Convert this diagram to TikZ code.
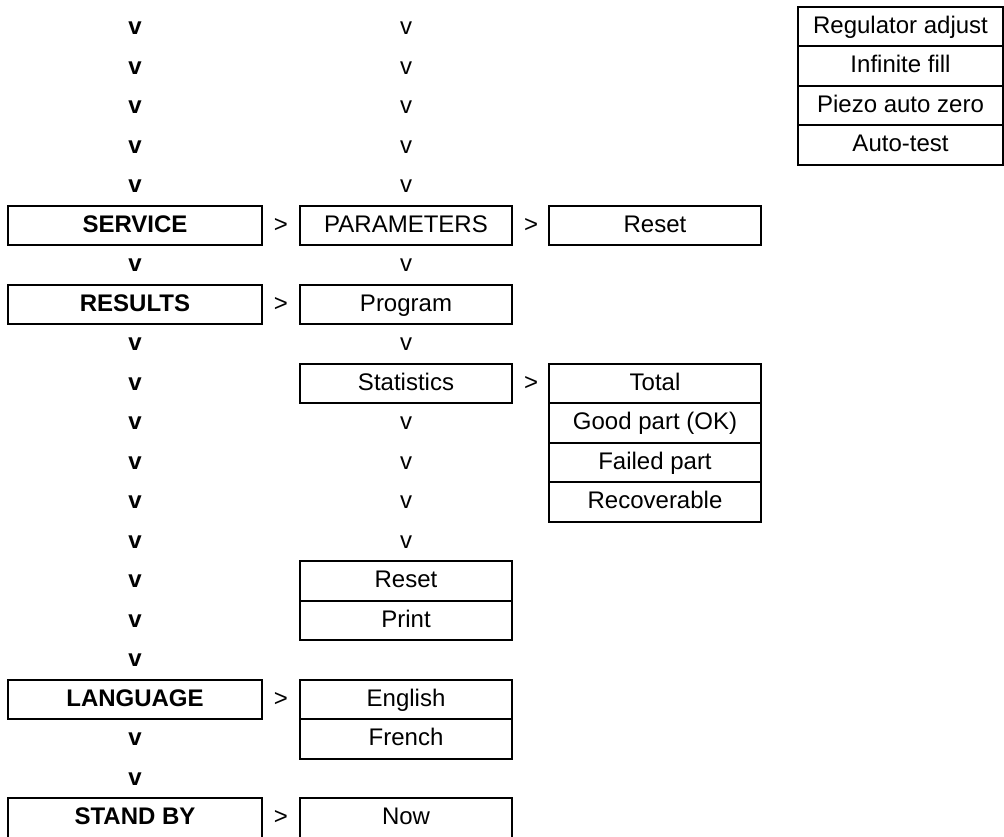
\documentclass[tikz,border=0pt]{standalone}
\usepackage{fontspec}
\setmainfont{Liberation Sans}
\begin{document}
\begin{tikzpicture}[x=0.5pt,y=-0.5pt,
  every node/.style={font=\fontsize{12}{14}\selectfont, inner sep=0pt, outer sep=0pt, text height=9pt, text depth=2.5pt},
  lbox/.style={draw, line width=1pt, minimum width=127pt, minimum height=19.75pt, font=\fontsize{12}{14}\selectfont\bfseries},
  mbox/.style={draw, line width=1pt, minimum width=106pt, minimum height=19.75pt},
  tbox/.style={draw, line width=1pt, minimum width=102.5pt, minimum height=19.75pt},
  vb/.style={font=\fontsize{12}{14}\selectfont\bfseries},
  vn/.style={},
  gt/.style={}]
\useasboundingbox (0,0) rectangle (1004,836);
% left column v marks
\foreach \k in {0,1,2,3,4,6,8,9,10,11,12,13,14,15,16,18,19}
  \node[vb] (vl\k) at (135,{28+39.5*\k}) {v};
% middle column v marks
\foreach \k in {0,1,2,3,4,6,8,10,11,12,13}
  \node[vn] (vm\k) at (406,{28+39.5*\k}) {v};
% left boxes
\node[lbox] (service)  at (135,{28+39.5*5})  {SERVICE};
\node[lbox] (results)  at (135,{28+39.5*7})  {RESULTS};
\node[lbox] (language) at (135,{28+39.5*17}) {LANGUAGE};
\node[lbox] (standby)  at (135,{28+39.5*20}) {STAND BY};
% left > middle
\foreach \k in {5,7,17,20}
  \node[gt] (ga\k) at (281,{28+39.5*\k}) {>};
% middle boxes
\node[mbox] (parameters) at (406,{28+39.5*5})  {PARAMETERS};
\node[mbox] (program)    at (406,{28+39.5*7})  {Program};
\node[mbox] (statistics) at (406,{28+39.5*9})  {Statistics};
\node[mbox] (reset2)     at (406,{28+39.5*14}) {Reset};
\node[mbox] (print)      at (406,{28+39.5*15}) {Print};
\node[mbox] (english)    at (406,{28+39.5*17}) {English};
\node[mbox] (french)     at (406,{28+39.5*18}) {French};
\node[mbox] (now)        at (406,{28+39.5*20}) {Now};
% middle > right
\foreach \k in {5,9}
  \node[gt] (gb\k) at (531,{28+39.5*\k}) {>};
% right boxes
\node[mbox] (reset1)      at (655,{28+39.5*5})  {Reset};
\node[mbox] (total)       at (655,{28+39.5*9})  {Total};
\node[mbox] (good)        at (655,{28+39.5*10}) {Good part (OK)};
\node[mbox] (failed)      at (655,{28+39.5*11}) {Failed part};
\node[mbox] (recoverable) at (655,{28+39.5*12}) {Recoverable};
% top right table
\node[tbox] (regulator) at (900.5,{26.5+39.5*0}) {Regulator adjust};
\node[tbox] (infinite)  at (900.5,{26.5+39.5*1}) {Infinite fill};
\node[tbox] (piezo)     at (900.5,{26.5+39.5*2}) {Piezo auto zero};
\node[tbox] (autotest)  at (900.5,{26.5+39.5*3}) {Auto-test};
\end{tikzpicture}
\end{document}
